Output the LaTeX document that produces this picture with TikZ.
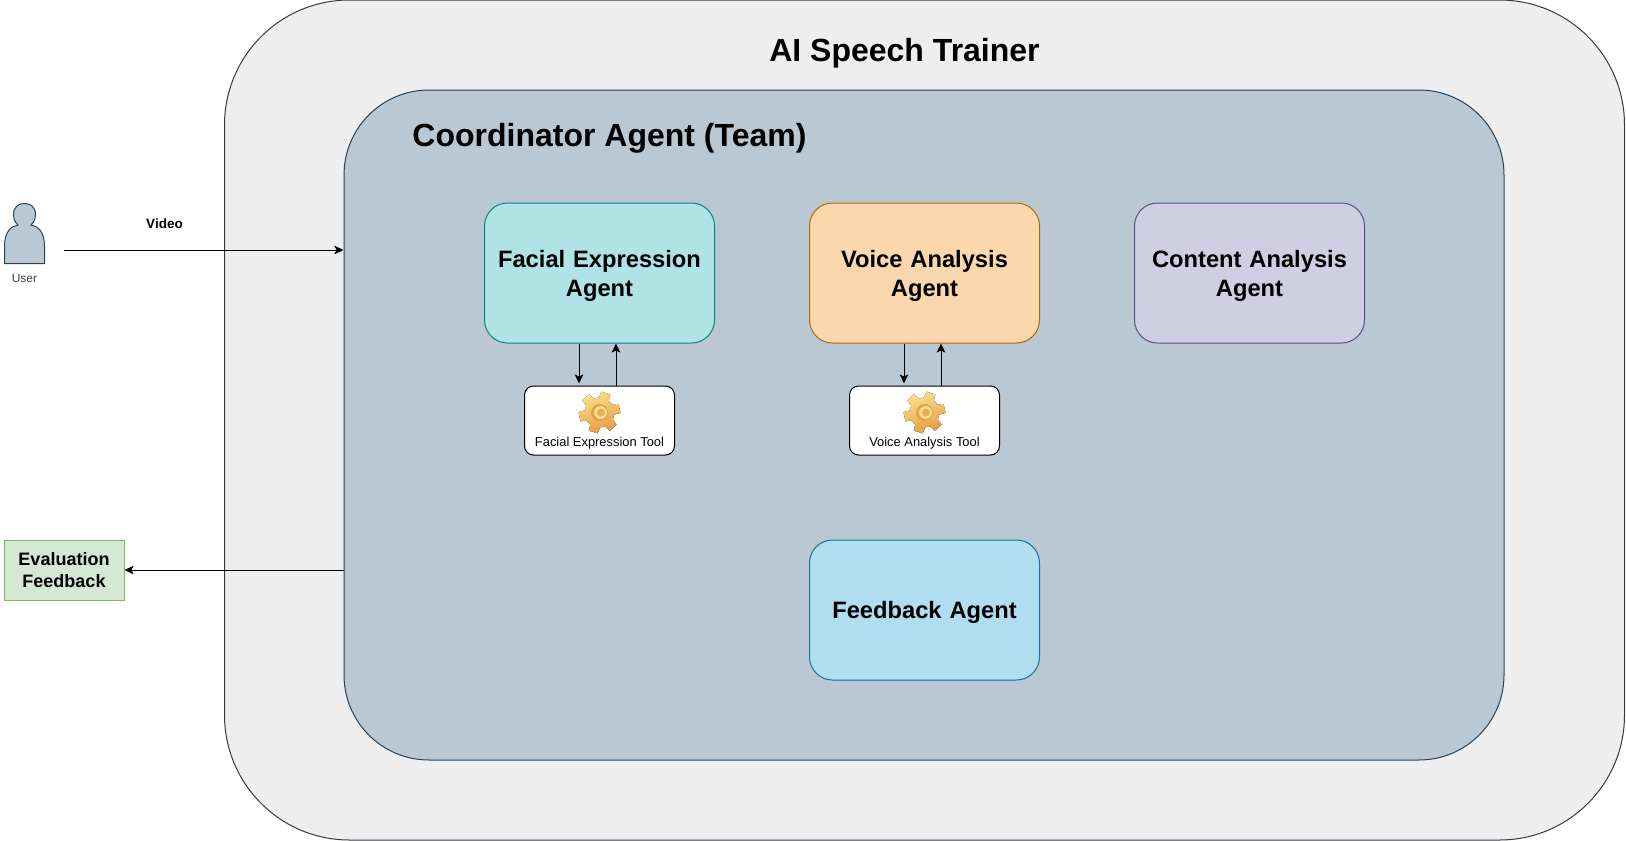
\documentclass[tikz,border=0pt]{standalone}
\usepackage{fontspec}
\setmainfont{Liberation Sans}
\usetikzlibrary{calc}
\usetikzlibrary{positioning}
\usetikzlibrary{arrows.meta}
\definecolor{outerfill}{HTML}{EEEEEE}
\definecolor{outerline}{HTML}{36393D}
\definecolor{innerfill}{HTML}{BAC8D3}
\definecolor{innerline}{HTML}{23445D}
\definecolor{facefill}{HTML}{B0E3E6}
\definecolor{faceline}{HTML}{0E8088}
\definecolor{voicefill}{HTML}{FAD7AC}
\definecolor{voiceline}{HTML}{B46504}
\definecolor{contentfill}{HTML}{D0CEE2}
\definecolor{contentline}{HTML}{56517E}
\definecolor{feedfill}{HTML}{B1DDF0}
\definecolor{feedline}{HTML}{10739E}
\definecolor{evalfill}{HTML}{D5E8D4}
\definecolor{evalline}{HTML}{82B366}
\definecolor{gearlight}{HTML}{FBE08C}
\definecolor{geardark}{HTML}{E59A42}
\definecolor{gearhole}{HTML}{E3A04A}
\tikzstyle{panel} = [rectangle, draw, inner sep=0pt]
\tikzstyle{agent} = [rectangle, draw, rounded corners=23pt, minimum width=230pt,
    minimum height=140pt, text width=210pt, align=center, inner sep=0pt,
    font=\fontsize{23.7}{29}\selectfont\bfseries, execute at begin node=\rule{0pt}{23pt}]
\tikzstyle{tool} = [rectangle, draw=black, fill=white, rounded corners=9pt,
    minimum width=150pt, minimum height=69pt, node distance=147.5pt]
\tikzstyle{toollabel} = [font=\fontsize{12.9}{15}\selectfont, inner sep=0pt]
\tikzstyle{line} = [draw, -{Stealth[length=9pt,width=8.5pt,inset=2pt]}, line width=1pt]
\tikzset{
  gear/.pic={
    \fill[left color=gearlight, right color=geardark, shading angle=20, rotate=12]
      (-9:21) \foreach \a in {0,60,...,300} {
        -- (\a-13:21) -- (\a+13:21) -- (\a+20:15) -- (\a+40:15)
      } -- cycle;
    \fill[gearhole] (0,0) circle (8.5);
    \fill[gearlight] (1,0) circle (6.5);
    \fill[gearhole!80!gearlight] (1.5,0) circle (4);
  }
}

\begin{document}
\begin{tikzpicture}[x=1pt, y=-1pt, line width=1pt, node distance=325pt]
    \useasboundingbox (0,0) rectangle (1626,841);
    % Place panels
    \node [panel, draw=outerline, fill=outerfill, rounded corners=125pt, minimum width=1400pt, minimum height=840pt] (trainer) at (924.5,420) {};
    \node [panel, draw=innerline, fill=innerfill, rounded corners=85pt, minimum width=1160pt, minimum height=670pt] (team) at (924,425) {};
    \node [font=\fontsize{32}{38}\selectfont\bfseries] (trainertitle) at (904.5,53) {AI Speech Trainer};
    \node [font=\fontsize{32}{38}\selectfont\bfseries] (teamtitle) at (609.5,138.5) {Coordinator Agent (Team)};
    % Place agents
    \node [agent, draw=faceline, fill=facefill] (facial) at (599.5,273) {Facial Expression\\Agent};
    \node [agent, draw=voiceline, fill=voicefill, right of=facial] (voice) {Voice Analysis\\Agent};
    \node [agent, draw=contentline, fill=contentfill, right of=voice] (content) {Content Analysis\\Agent};
    \node [agent, draw=feedline, fill=feedfill, below of=voice, node distance=337pt] (feedback) {Feedback Agent};
    % Place tools
    \node [tool, below of=facial] (facialtool) {};
    \node [tool, below of=voice] (voicetool) {};
    \pic at ($(facialtool)+(0,-8)$) {gear};
    \pic at ($(voicetool)+(0,-8)$) {gear};
    \node [toollabel] (facialtext) at ($(facialtool)+(0,23)$) {Facial Expression Tool};
    \node [toollabel] (voicetext) at ($(voicetool)+(0,23)$) {Voice Analysis Tool};
    % Place user
    \draw [draw=innerline, fill=innerfill] (4.5,263.5) -- (4.5,246) .. controls (4.5,232) and (11,226) .. (18,225)
        .. controls (14,221) and (13.5,218) .. (13.5,215) .. controls (13.5,207) and (18,203.5) .. (24.5,203.5)
        .. controls (31,203.5) and (35.5,207) .. (35.5,215) .. controls (35.5,218) and (35,221) .. (31,225)
        .. controls (38,226) and (44.5,232) .. (44.5,246) -- (44.5,263.5) -- cycle;
    \coordinate (user) at (64,250);
    \node [font=\fontsize{12}{14}\selectfont, text=black!75] (userlabel) at (24.5,278) {User};
    \node [font=\fontsize{13.5}{16}\selectfont\bfseries] (videolabel) at (164.5,223.5) {Video};
    \node [rectangle, draw=evalline, fill=evalfill, minimum width=120pt, minimum height=60pt, align=center, inner sep=0pt,
        font=\fontsize{18}{22}\selectfont\bfseries] (evaluation) at (64,570) {Evaluation\\Feedback};
    % Draw edges
    \path [line] (user) -- (user -| team.west);
    \path [line] (team.west |- evaluation) -- (evaluation);
    \path [line] ($(facial.south)+(-20.5,0)$) -- ($(facialtool.north)+(-20.5,-2)$);
    \path [line] ($(facialtool.north)+(16.5,0)$) -- ($(facial.south)+(16.5,0)$);
    \path [line] ($(voice.south)+(-20.5,0)$) -- ($(voicetool.north)+(-20.5,-2)$);
    \path [line] ($(voicetool.north)+(16.5,0)$) -- ($(voice.south)+(16.5,0)$);
\end{tikzpicture}
\end{document}
